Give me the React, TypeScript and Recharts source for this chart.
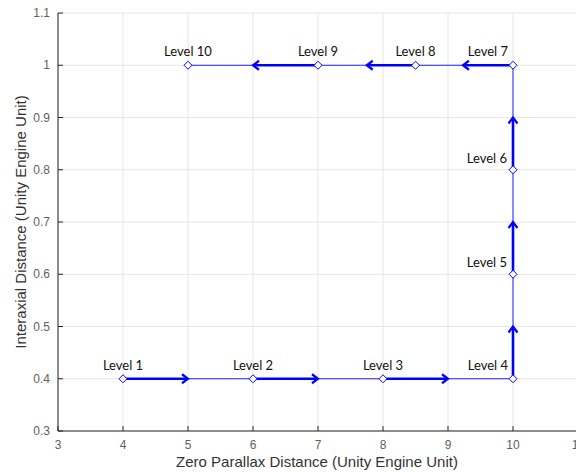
import {
  CartesianGrid,
  ComposedChart,
  Line,
  XAxis,
  YAxis
} from "recharts";

const levelNames = [
  "Level 1", "Level 2", "Level 3", "Level 4", "Level 5",
  "Level 6", "Level 7", "Level 8", "Level 9", "Level 10"
];
const zeroParallax = [4, 6, 8, 10, 10, 10, 10, 8.5, 7, 5];
const interaxial = [0.4, 0.4, 0.4, 0.4, 0.6, 0.8, 1, 1, 1, 1];

// arrows: [x0, y0, x1, y1]
const arrows: Array<[number, number, number, number]> = [
  [4, 0.4, 5, 0.4],
  [6, 0.4, 7, 0.4],
  [8, 0.4, 9, 0.4],
  [10, 0.4, 10, 0.5],
  [10, 0.6, 10, 0.7],
  [10, 0.8, 10, 0.9],
  [10, 1, 9.23, 1],
  [8.5, 1, 7.75, 1],
  [7, 1, 6, 1]
];

const xTicks = [3, 4, 5, 6, 7, 8, 9, 10, 11];
const yTicks = [0.3, 0.4, 0.5, 0.6, 0.7, 0.8, 0.9, 1, 1.1];

const path = levelNames.map((name, i) => ({
  name,
  x: zeroParallax[i],
  y: interaxial[i]
}));

const BLUE = "#0000ff";
const TICK_COLOR = "#5f5f5f";
const AXIS_FONT = "'Liberation Sans', Arial, sans-serif";

// label placement per level: "up" centred above, "upLeft" ending left of the point, "left"
const labelPlace = ["up", "up", "up", "upLeft", "left", "left", "upLeft", "up", "up", "up"];

function Diamond(props: any) {
  const { cx, cy } = props;
  if (cx == null || cy == null) return null;
  const r = 4;
  return (
    <path
      key={`d-${props.index}`}
      d={`M${cx},${cy - r}L${cx + r},${cy}L${cx},${cy + r}L${cx - r},${cy}Z`}
      fill="#fff"
      stroke={BLUE}
      strokeWidth={1}
    />
  );
}

function LevelLabel(props: any) {
  const { x, y, index, value } = props;
  const place = labelPlace[index];
  let tx = x;
  let ty = y - 9;
  let anchor: "middle" | "end" = "middle";
  if (place === "upLeft") {
    tx = x - 5;
    ty = y - 9;
    anchor = "end";
  } else if (place === "left") {
    tx = x - 6;
    ty = y - 7;
    anchor = "end";
  }
  return (
    <text
      x={tx}
      y={ty}
      textAnchor={anchor}
      fontFamily="Lato, 'Open Sans', sans-serif"
      fontSize={13}
      fill="#111"
    >
      {value}
    </text>
  );
}

function makeHead(dx: number, dy: number) {
  return function Head(props: any) {
    const { cx, cy, index } = props;
    if (index !== 1 || cx == null) return <g key={`h-${index}`} />;
    const angle = (Math.atan2(-dy, dx) * 180) / Math.PI;
    return (
      <path
        key={`h-${index}`}
        d="M-6,-4.5 L0,0 L-6,4.5"
        transform={`translate(${cx},${cy}) rotate(${angle})`}
        fill="none"
        stroke={BLUE}
        strokeWidth={2.2}
        strokeLinejoin="miter"
      />
    );
  };
}

function XTick(props: any) {
  const { x, y, payload, orientation } = props;
  if (orientation === "top") {
    return <line x1={x} y1={13} x2={x} y2={18} stroke="#262626" strokeWidth={1} />;
  }
  return (
    <g>
      <line x1={x} y1={431} x2={x} y2={426} stroke="#262626" strokeWidth={1} />
      <text
        x={x}
        y={y}
        dy={14}
        textAnchor="middle"
        fontFamily={AXIS_FONT}
        fontSize={12}
        fill={TICK_COLOR}
      >
        {payload.value}
      </text>
    </g>
  );
}

function YTick(props: any) {
  const { x, y, payload, orientation } = props;
  if (orientation === "right") {
    return <line x1={578} y1={y} x2={573} y2={y} stroke="#262626" strokeWidth={1} />;
  }
  return (
    <g>
      <line x1={58} y1={y} x2={63} y2={y} stroke="#262626" strokeWidth={1} />
      <text
        x={x}
        y={y}
        dy={4}
        textAnchor="end"
        fontFamily={AXIS_FONT}
        fontSize={12}
        fill={TICK_COLOR}
      >
        {payload.value}
      </text>
    </g>
  );
}

function YLabel(props: any) {
  const vb = props.viewBox;
  const cy = vb.y + vb.height / 2;
  return (
    <text
      x={26}
      y={cy}
      transform={`rotate(-90, 26, ${cy})`}
      textAnchor="middle"
      fontFamily={AXIS_FONT}
      fontSize={15}
      fill="#333"
    >
      Interaxial Distance (Unity Engine Unit)
    </text>
  );
}

function XLabel(props: any) {
  const vb = props.viewBox;
  return (
    <text
      x={vb.x + vb.width / 2 - 1}
      y={467}
      textAnchor="middle"
      fontFamily={AXIS_FONT}
      fontSize={15}
      fill="#333"
    >
      Zero Parallax Distance (Unity Engine Unit)
    </text>
  );
}

export default function App() {
  return (
    <div
      style={{
        position: "fixed",
        left: 0,
        top: 0,
        width: 576,
        height: 473,
        overflow: "hidden",
        background: "#fff"
      }}
    >
      <ComposedChart
        width={600}
        height={473}
        margin={{ top: 13, right: 0, bottom: 0, left: 0 }}
      >
        <CartesianGrid xAxisId="b" yAxisId="l" stroke="#e6e6e6" strokeWidth={1} />
        <XAxis
          xAxisId="b"
          type="number"
          dataKey="x"
          domain={[3, 11]}
          ticks={xTicks}
          height={42}
          axisLine={{ stroke: "#262626" }}
          tickLine={false}
          tickSize={0}
          tickMargin={4}
          tick={<XTick />}
          interval={0}
          label={{ content: <XLabel /> }}
        />
        <XAxis
          xAxisId="t"
          orientation="top"
          type="number"
          dataKey="x"
          domain={[3, 11]}
          ticks={xTicks}
          height={0}
          axisLine={{ stroke: "#262626" }}
          tickLine={false}
          tick={<XTick orientation="top" />}
          interval={0}
        />
        <YAxis
          yAxisId="l"
          type="number"
          dataKey="y"
          domain={[0.3, 1.1]}
          ticks={yTicks}
          width={58}
          axisLine={{ stroke: "#262626" }}
          tickLine={false}
          tickSize={0}
          tickMargin={8}
          tick={<YTick />}
          interval={0}
          label={{ content: <YLabel /> }}
        />
        <YAxis
          yAxisId="r"
          orientation="right"
          type="number"
          dataKey="y"
          domain={[0.3, 1.1]}
          ticks={yTicks}
          width={22}
          axisLine={{ stroke: "#262626" }}
          tickLine={false}
          tick={<YTick orientation="right" />}
          interval={0}
        />
        {arrows.map(([x0, y0, x1, y1], i) => (
          <Line
            key={`a-${i}`}
            xAxisId="b"
            yAxisId="l"
            data={[
              { x: x0, y: y0 },
              { x: x1, y: y1 }
            ]}
            dataKey="y"
            type="linear"
            stroke={BLUE}
            strokeWidth={2.6}
            dot={makeHead(x1 - x0, y1 - y0)}
            activeDot={false}
            isAnimationActive={false}
          />
        ))}
        <Line
          xAxisId="b"
          yAxisId="l"
          data={path}
          dataKey="y"
          type="linear"
          stroke={BLUE}
          strokeWidth={1}
          strokeOpacity={0.85}
          dot={<Diamond />}
          activeDot={false}
          isAnimationActive={false}
          label={(p: any) => <LevelLabel {...p} value={levelNames[p.index]} />}
        />
      </ComposedChart>
    </div>
  );
}
